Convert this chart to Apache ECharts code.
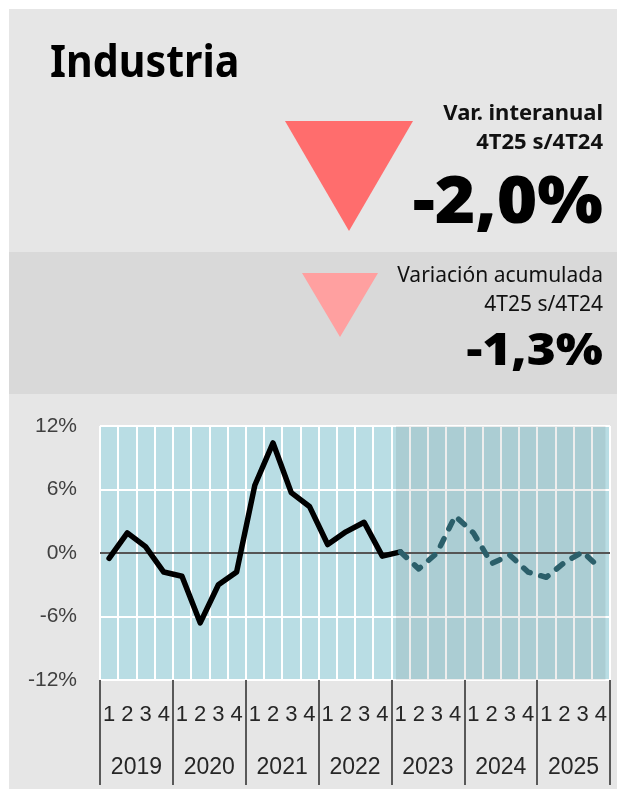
<!DOCTYPE html>
<html><head><meta charset="utf-8">
<script src="https://cdn.jsdelivr.net/npm/echarts@6/dist/echarts.min.js"></script>
<style>html,body{margin:0;padding:0;background:#fff}#c{width:619px;height:789px}</style>
</head><body><div id="c"></div>
<script>
// ---- data ----
const years = ['2019', '2020', '2021', '2022', '2023', '2024', '2025'];
const quarterNames = ['1', '2', '3', '4'];
const yTickLabels = ['-12%', '-6%', '0%', '6%', '12%'];
// Var. interanual, 2019T1 .. 2023T1 (solid)
const solidValues = [-0.5, 1.9, 0.6, -1.8, -2.2, -6.6, -3.0, -1.8, 6.4, 10.4, 5.7, 4.4, 0.8, 2.0, 2.9, -0.3, 0.1];
// 2023T1 .. 2025T4 (dashed)
const dashedValues = [0.1, -1.5, 0.0, 3.5, 1.9, -1.0, -0.2, -1.8, -2.3, -0.9, 0.1, -1.5];
const titleText = 'Industria';
const kpi1Label = ['Var. interanual', '4T25 s/4T24'];
const kpi1Value = '-2,0%';
const kpi2Label = ['Variación acumulada', '4T25 s/4T24'];
const kpi2Value = '-1,3%';

// ---- build ----
const categories = years.flatMap(y => quarterNames.map(q => y + '-' + q));
const nQ = categories.length;
const solidData = categories.map((c, i) => i < solidValues.length ? solidValues[i] : null);
const dashStart = nQ - dashedValues.length;
const dashedData = categories.map((c, i) => i >= dashStart ? dashedValues[i - dashStart] : null);

const HEAD = '"Noto Sans", Lato, sans-serif';
const LAB = '"Liberation Sans", Arial, sans-serif';
function txt(text, x, y, font, color, align, sx) {
  return { type: 'text', z: 5, x: x, y: y, scaleX: sx || 1, style: { text, x: 0, y: 0, font, fill: color,
    textAlign: align, align: align, textVerticalAlign: 'middle', verticalAlign: 'middle' } };
}

const chart = echarts.init(document.getElementById('c'), null, { renderer: 'canvas' });
chart.setOption({
  backgroundColor: '#ffffff',
  animation: false,
  graphic: [
    { type: 'rect', z: -10, shape: { x: 9, y: 9, width: 608, height: 780 }, style: { fill: '#e6e6e6' } },
    { type: 'rect', z: -9, shape: { x: 9, y: 252, width: 608, height: 142 }, style: { fill: '#d9d9d9' } },
    { type: 'polygon', z: 1, shape: { points: [[285, 121], [413, 121], [349, 231]] }, style: { fill: '#ff6d6d' } },
    { type: 'polygon', z: 1, shape: { points: [[302, 273], [378, 273], [340, 337]] }, style: { fill: '#ffa0a0' } },
    txt(titleText, 50, 64, 'bold 44px ' + HEAD, '#000', 'left', 0.935),
    txt(kpi1Label[0], 603, 114, 'bold 22px ' + HEAD, '#111', 'right'),
    txt(kpi1Label[1], 603, 143, 'bold 22px ' + HEAD, '#111', 'right'),
    txt(kpi1Value, 603, 204, '900 66px ' + HEAD, '#000', 'right', 1.05),
    txt(kpi2Label[0], 603, 276, 'normal 21px ' + HEAD, '#111', 'right'),
    txt(kpi2Label[1], 603, 305, 'normal 21px ' + HEAD, '#111', 'right'),
    txt(kpi2Value, 603, 352, '900 44px ' + HEAD, '#000', 'right', 1.13)
  ],
  grid: { left: 100, right: 9, top: 426, bottom: 109, show: true, backgroundColor: '#b9dde4', borderWidth: 0 },
  xAxis: [
    {
      type: 'category', data: categories, position: 'bottom', boundaryGap: true,
      axisLine: { show: false, onZero: false }, axisTick: { show: false },
      axisLabel: { interval: 0, margin: 24, fontSize: 22, fontFamily: LAB, color: '#262626',
        formatter: v => v.split('-')[1] },
      splitLine: { show: true, interval: 0, lineStyle: { color: '#ffffff', width: 2 } }
    },
    {
      type: 'category', data: years, position: 'bottom', boundaryGap: true,
      axisLine: { show: false, onZero: false },
      axisTick: { show: true, interval: 0, length: 105, lineStyle: { color: '#595959', width: 2 } },
      axisLabel: { interval: 0, margin: 76, fontSize: 23, fontFamily: LAB, color: '#262626' },
      splitLine: { show: false }
    },
    { type: 'value', min: 0, max: nQ, show: false }
  ],
  yAxis: {
    type: 'value', min: -12, max: 12, interval: 6,
    axisLine: { show: false }, axisTick: { show: false },
    axisLabel: { margin: 23, fontSize: 21, fontFamily: LAB, color: '#404040',
      formatter: v => yTickLabels[[-12, -6, 0, 6, 12].indexOf(v)] },
    splitLine: { show: true, lineStyle: { color: '#ffffff', width: 2 } }
  },
  series: [
    {
      type: 'line', xAxisIndex: 2, data: [], silent: true, z: 3,
      markArea: { silent: true, z: 1, itemStyle: { color: 'rgba(0,0,0,0.07)' },
        data: [[{ xAxis: 16.25, yAxis: -12 }, { xAxis: 27.75, yAxis: 12.35 }]] },
      markLine: { silent: true, z: 2, symbol: 'none', label: { show: false },
        lineStyle: { color: '#555555', width: 2, type: 'solid' },
        data: [{ yAxis: 0 }] }
    },
    {
      name: 'solid', type: 'line', xAxisIndex: 0, data: solidData, z: 10,
      symbol: 'none', connectNulls: false,
      lineStyle: { color: '#000000', width: 5.5, join: 'round', cap: 'round' }
    },
    {
      name: 'dashed', type: 'line', xAxisIndex: 0, data: dashedData, z: 10,
      symbol: 'none', connectNulls: false,
      lineStyle: { color: '#2b5f6a', width: 5.5, type: [8, 11], cap: 'round', join: 'round' }
    }
  ]
});
</script>
</body></html>
